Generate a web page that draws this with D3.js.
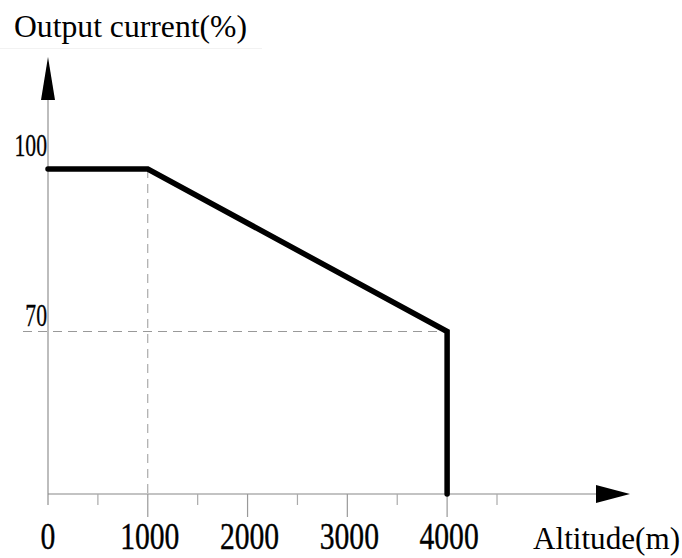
<!DOCTYPE html>
<html>
<head>
<meta charset="utf-8">
<script src="https://cdn.jsdelivr.net/npm/d3@7"></script>
<style>
html,body{margin:0;padding:0;background:#fff;}
svg{display:block;}
text{font-family:"Liberation Serif","Times New Roman",serif;fill:#000;}
</style>
</head>
<body>
<svg id="chart" width="682" height="558"></svg>
<script>
// Data
const altitude = [0, 1000, 4000, 4000];
const current = [100, 100, 70, 40];
const xTickLabels = [0, 1000, 2000, 3000, 4000];
const xMinorTicks = [500, 1500, 2500, 3500, 4500];
const yTickLabels = [100, 70];
const yTitle = "Output current(%)";
const xTitle = "Altitude(m)";

const svg = d3.select("#chart");
const x = d3.scaleLinear().domain([0, 4500]).range([48, 497]);
const y = d3.scaleLinear().domain([40, 100]).range([494, 169]);

// faint title box line
svg.append("line").attr("x1", 0).attr("x2", 262).attr("y1", 48.5).attr("y2", 48.5)
  .attr("stroke", "#f2f2f2").attr("stroke-width", 1);

// reference dashed lines
svg.append("line")
  .attr("x1", x(1000)).attr("x2", x(1000))
  .attr("y1", y(100)).attr("y2", y(40))
  .attr("stroke", "#999").attr("stroke-width", 1)
  .attr("stroke-dasharray", "9,6");
svg.append("line")
  .attr("x1", 23).attr("x2", x(4000))
  .attr("y1", y(70)).attr("y2", y(70))
  .attr("stroke", "#999").attr("stroke-width", 1)
  .attr("stroke-dasharray", "9,6");

// y axis
svg.append("line").attr("x1", x(0)).attr("x2", x(0)).attr("y1", 100).attr("y2", 505)
  .attr("stroke", "#bdbdbd").attr("stroke-width", 2);
svg.append("path").attr("d", `M${x(0)},57 L${x(0)+7},100 L${x(0)-7},100 Z`).attr("fill", "#000");

// x axis
svg.append("line").attr("x1", x(0)).attr("x2", 597).attr("y1", y(40)).attr("y2", y(40))
  .attr("stroke", "#888").attr("stroke-width", 1.2);
svg.append("path").attr("d", `M630,${y(40)} L596,${y(40)-9} L596,${y(40)+9} Z`).attr("fill", "#000");

// ticks
svg.selectAll(".major").data(xTickLabels.filter(d => d > 0)).enter().append("line")
  .attr("x1", d => x(d)).attr("x2", d => x(d))
  .attr("y1", y(40)).attr("y2", 517)
  .attr("stroke", "#999").attr("stroke-width", 1.2);
svg.selectAll(".minor").data(xMinorTicks).enter().append("line")
  .attr("x1", d => x(d)).attr("x2", d => x(d))
  .attr("y1", y(40)).attr("y2", 505)
  .attr("stroke", "#aaa").attr("stroke-width", 1.2);

// data line
const line = d3.line().x(d => x(d[0])).y(d => y(d[1]));
svg.append("path")
  .datum(altitude.map((a, i) => [a, current[i]]))
  .attr("d", line)
  .attr("fill", "none").attr("stroke", "#000").attr("stroke-width", 5.5)
  .attr("stroke-linejoin", "miter").attr("stroke-linecap", "round");

// x tick labels (condensed)
svg.selectAll(".xl").data(xTickLabels).enter().append("text")
  .attr("transform", d => `translate(${x(d) + (d === 0 ? 0 : 2)},549) scale(0.78,1)`)
  .attr("text-anchor", "middle")
  .attr("font-size", 38)
  .attr("stroke", "#000").attr("stroke-width", 0.4)
  .text(d => d);

// y tick labels
svg.selectAll(".yl").data(yTickLabels).enter().append("text")
  .attr("transform", d => `translate(47,${y(d) - (d === 100 ? 13 : 6)}) scale(0.7,1)`)
  .attr("text-anchor", "end")
  .attr("font-size", 31)
  .attr("stroke", "#000").attr("stroke-width", 0.3)
  .text(d => d);

// titles
svg.append("text").attr("x", 14).attr("y", 37).attr("font-size", 31)
  .attr("textLength", 233).attr("lengthAdjust", "spacingAndGlyphs").text(yTitle);
svg.append("text").attr("x", 533).attr("y", 549).attr("font-size", 31)
  .attr("textLength", 147).attr("lengthAdjust", "spacingAndGlyphs").text(xTitle);
</script>
</body>
</html>
